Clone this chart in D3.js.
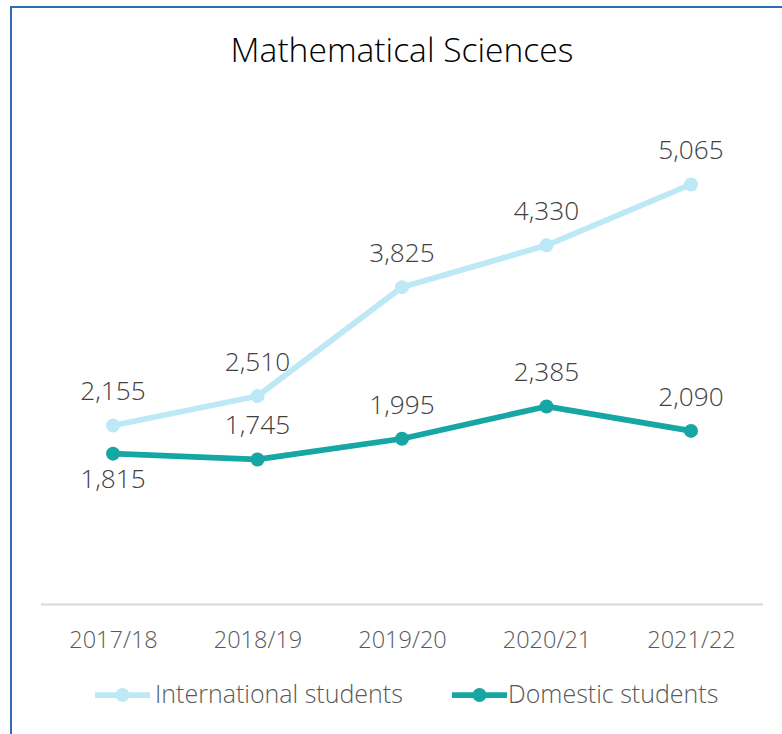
<!DOCTYPE html>
<html><head><meta charset="utf-8">
<script src="https://cdn.jsdelivr.net/npm/d3@7"></script>
<style>body{margin:0;background:#fff;} svg{display:block;font-family:"Open Sans",sans-serif;}</style>
</head><body>
<script>
const categories = ["2017/18","2018/19","2019/20","2020/21","2021/22"];
const international = [2155,2510,3825,4330,5065];
const domestic = [1815,1745,1995,2385,2090];
const seriesNames = ["International students","Domestic students"];

const W=782,H=734;
const svg=d3.select("body").append("svg").attr("width",W).attr("height",H);
svg.append("rect").attr("width",W).attr("height",H).attr("fill","#fff");
svg.append("path").attr("d",`M11,${H} L11,7 L${W},7`).attr("fill","none").attr("stroke","#2f6db3").attr("stroke-width",2);

const x=d3.scalePoint().domain(categories).range([113,691]);
const y=d3.scaleLinear().domain([0,6000]).range([604,107]);

svg.append("text").attr("x",402).attr("y",62).attr("text-anchor","middle")
  .attr("font-size",33.6).attr("font-weight",300).attr("fill","#000").text("Mathematical Sciences");

const ax=svg.append("g").attr("transform","translate(0,604)")
  .call(d3.axisBottom(x).tickSize(0).tickPadding(0));
ax.select(".domain").remove();
svg.append("line").attr("x1",41).attr("x2",763).attr("y1",604.5).attr("y2",604.5).attr("stroke","#d9d9d9").attr("stroke-width",2);
ax.selectAll("text").attr("y",44).attr("dy",null).attr("font-size",23.5).attr("font-weight",300).attr("fill","#595959").attr("font-family","'Open Sans',sans-serif");

const colors=["#bde9f6","#16a6a3"];
const data=[international,domestic];
const line=d3.line().x((d,i)=>x(categories[i])).y(d=>y(d));
data.forEach((s,k)=>{
  svg.append("path").datum(s).attr("d",line).attr("fill","none").attr("stroke",colors[k]).attr("stroke-width",5.75).attr("stroke-linejoin","round");
  svg.selectAll(null).data(s).enter().append("circle").attr("cx",(d,i)=>x(categories[i])).attr("cy",d=>y(d)).attr("r",7).attr("fill",colors[k]);
  svg.selectAll(null).data(s).enter().append("text")
    .attr("x",(d,i)=>x(categories[i]))
    .attr("y",(d,i)=> (k===1&&i===0)? y(d)+34 : y(d)-25)
    .attr("text-anchor","middle").attr("font-size",26.2).attr("font-weight",300).attr("fill","#404040")
    .text(d=>d3.format(",")(d));
});

const leg=[{x0:95,tx:155},{x0:452,tx:508}];
leg.forEach((l,k)=>{
  svg.append("line").attr("x1",l.x0).attr("x2",l.x0+55).attr("y1",695).attr("y2",695).attr("stroke",colors[k]).attr("stroke-width",5.75);
  svg.append("circle").attr("cx",l.x0+27.5).attr("cy",695).attr("r",7).attr("fill",colors[k]);
  svg.append("text").attr("x",l.tx).attr("y",703).attr("font-size",25).attr("font-weight",300).attr("fill","#595959").text(seriesNames[k]);
});
</script>
</body></html>
